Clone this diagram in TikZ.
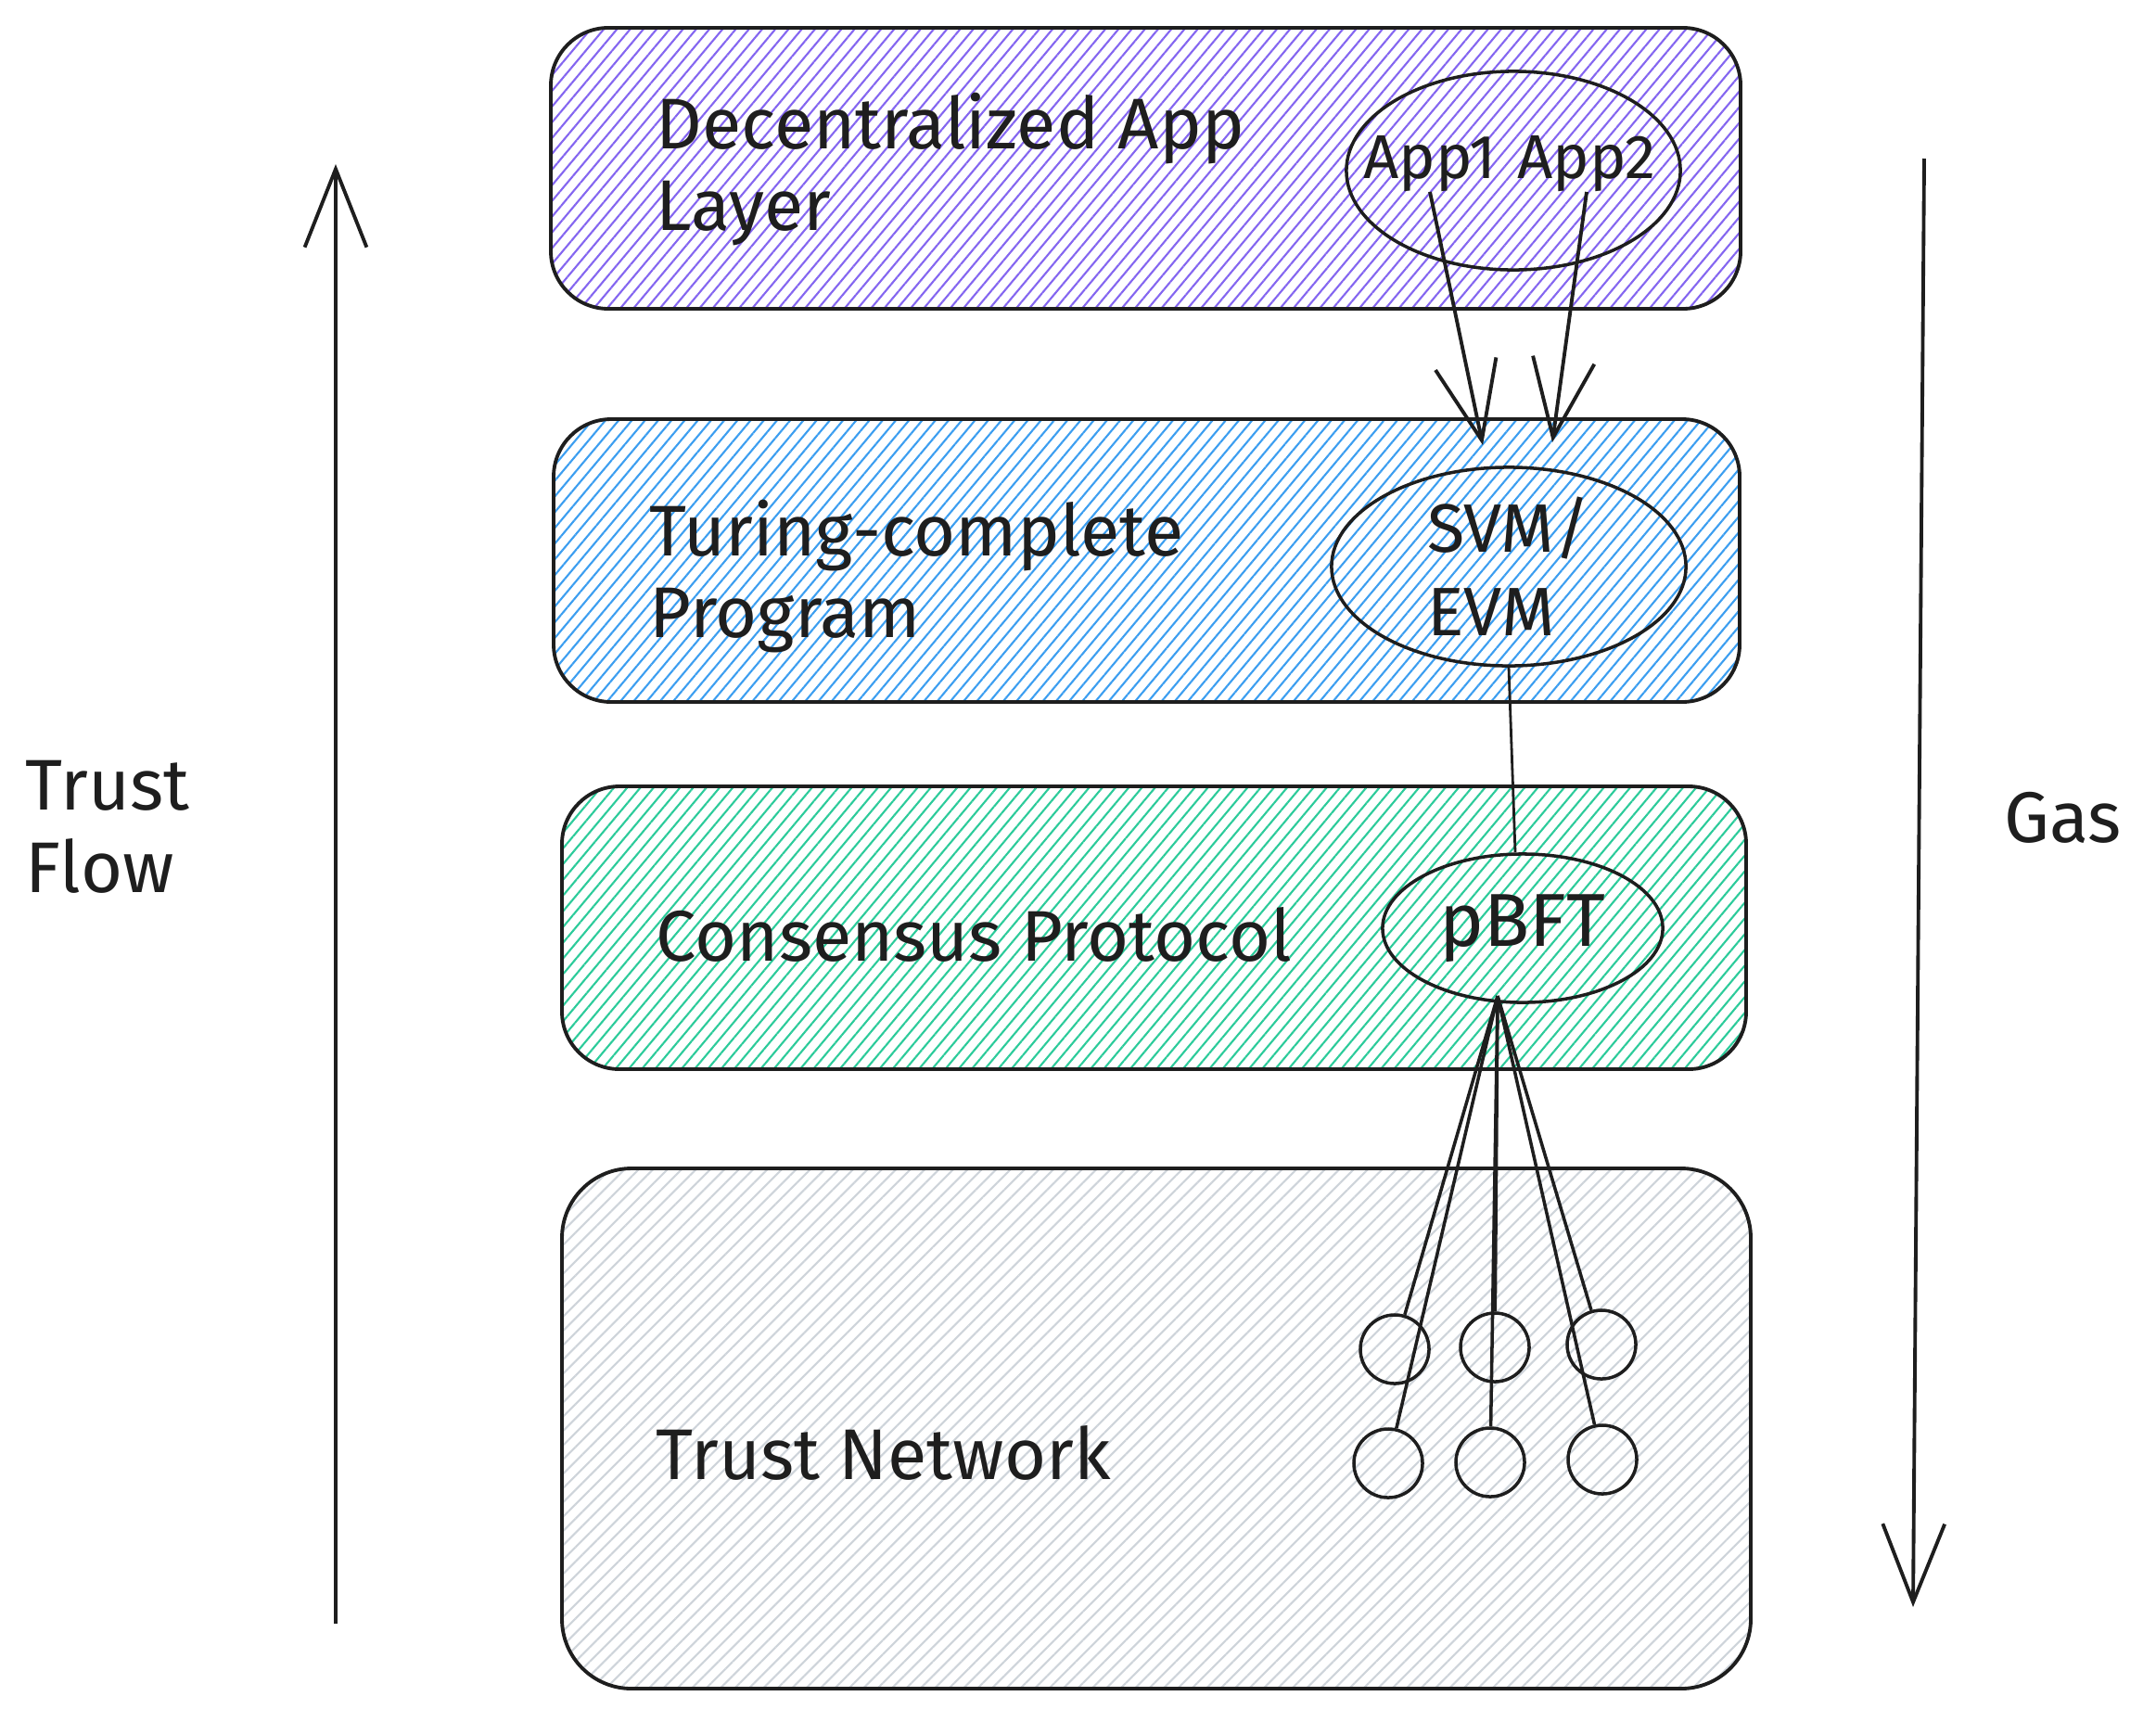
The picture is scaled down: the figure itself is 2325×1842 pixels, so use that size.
\documentclass[tikz,border=0pt]{standalone}
\usepackage{fontspec}
\setmainfont{Fira Sans}
\usetikzlibrary{arrows.meta,patterns.meta,shapes.geometric}
\definecolor{ink}{HTML}{1E1E1E}
\definecolor{appviolet}{HTML}{8466F0}
\definecolor{progblue}{HTML}{3C9EF0}
\definecolor{consgreen}{HTML}{2CCB9A}
\definecolor{netgray}{HTML}{CED4DA}
\tikzset{
  layerbox/.style={draw=ink, line width=1.1pt, rounded corners=0.62cm,
    pattern={Lines[angle=50,distance=3.1pt,line width=0.6pt]}, pattern color=#1},
  layertext/.style={anchor=base west, inner sep=0pt, text=ink, font=\fontsize{22}{26}\selectfont},
  sidetext/.style={anchor=base west, inner sep=0pt, text=ink, font=\fontsize{22}{26}\selectfont},
  apptext/.style={anchor=base, inner sep=0pt, text=ink, font=\fontsize{19}{23}\selectfont},
  oval/.style={ellipse, draw=ink, line width=1pt, inner sep=0pt, text=ink},
  peer/.style={circle, draw=ink, line width=1pt, minimum size=0.74cm, inner sep=0pt},
  link/.style={draw=ink, line width=1pt},
  flow/.style={draw=ink, line width=1.1pt, -{Straight Barb[length=24pt,width=19pt]}},
}
\begin{document}
\begin{tikzpicture}[x=0.01cm,y=-0.01cm]
\useasboundingbox (0,0) rectangle (2325,1842);
% layers
\draw[layerbox=appviolet] (594,30) rectangle (1877,333);
\draw[layerbox=progblue] (597,452) rectangle (1876,757);
\draw[layerbox=consgreen] (606,848) rectangle (1883,1153);
\draw[layerbox=netgray,rounded corners=0.75cm,
  pattern={Lines[angle=45,distance=3.1pt,line width=0.6pt]}] (606,1260) rectangle (1888,1821);

\node[layertext] (dappA) at (707,160) {Decentralized App};
\node[layertext] (dappB) at (707,248) {Layer};
\node[layertext] (progA) at (700,599) {Turing-complete};
\node[layertext] (progB) at (700,687) {Program};
\node[layertext] (cons) at (707,1036) {Consensus Protocol};
\node[layertext] (net) at (707,1595) {Trust Network};

\node[sidetext] (trustA) at (27,873) {Trust};
\node[sidetext] (trustB) at (27,962) {Flow};
\node[sidetext] (gas) at (2161,908) {Gas};

% side arrows
\coordinate (flowbot) at (362,1751);
\coordinate (flowtop) at (362,177);
\coordinate (gastop) at (2075,171);
\coordinate (gasbot) at (2063,1733);
\draw[flow] (flowbot) -- (flowtop);
\draw[flow] (gastop) -- (gasbot);

% apps
\node[oval, minimum width=3.6cm, minimum height=2.14cm] (apps) at (1632,184) {};
\node[apptext] (app1) at (1542,192) {App1};
\node[apptext] (app2) at (1711,192) {App2};
\node[oval, minimum width=3.82cm, minimum height=2.14cm, align=left,
  font=\fontsize{21}{25.6}\selectfont] (svm) at (1627,611) {SVM/\\EVM};
\coordinate (inA) at (1599,480);
\coordinate (inB) at (1674,477);
\draw[flow] (app1.south) -- (inA);
\draw[flow] (app2.south) -- (inB);

\node[oval, minimum width=3.02cm, minimum height=1.6cm,
  font=\fontsize{23}{27}\selectfont] (pbft) at (1642,1001) {pBFT};
\draw[link, line width=0.8pt] (svm.south) -- ([xshift=-0.08cm]pbft.north);

% peers
\node[peer] (p1) at (1504,1455) {};
\node[peer] (p2) at (1612,1453) {};
\node[peer] (p3) at (1727,1450) {};
\node[peer] (p4) at (1497,1578) {};
\node[peer] (p5) at (1607,1577) {};
\node[peer] (p6) at (1728,1574) {};
\coordinate (fan) at (1615,1074);
\foreach \i in {1,...,6}
	\draw[link] (fan) -- (p\i);
\end{tikzpicture}
\end{document}
